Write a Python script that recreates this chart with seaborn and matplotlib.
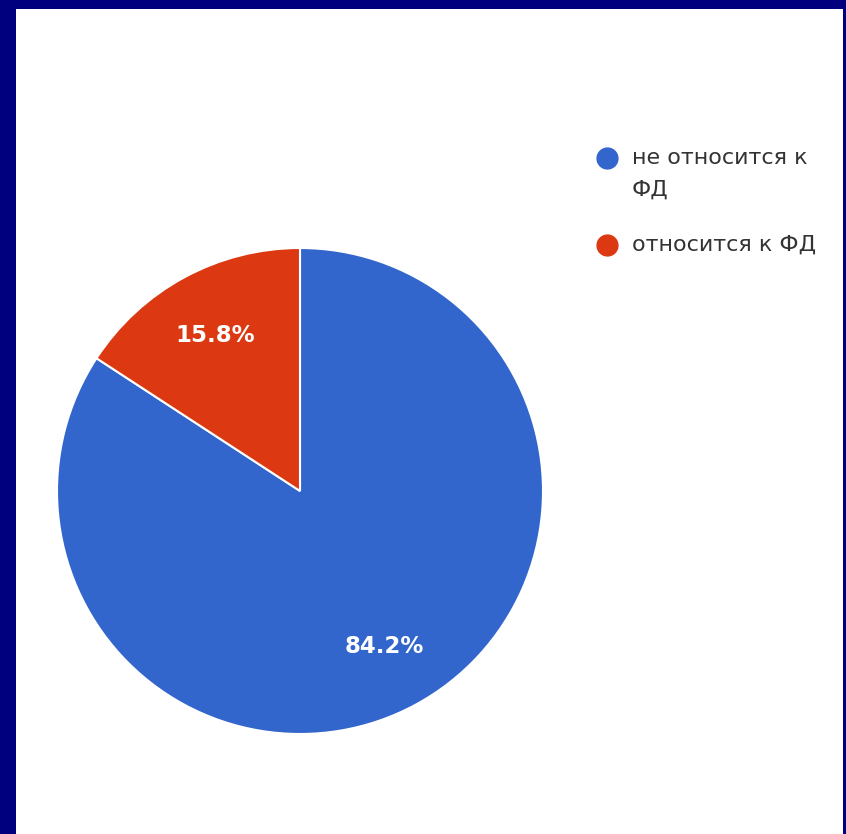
import matplotlib
matplotlib.use("Agg")
import matplotlib.pyplot as plt
import seaborn as sns
from matplotlib.lines import Line2D

categories = ["не относится к\nФД", "относится к ФД"]
values = [84.2, 15.8]
colors = ["#3366CC", "#DC3912"]

sns.set_style("white")
plt.rcParams['font.family'] = ['DejaVu Sans']

W, H = 846, 834
fig = plt.figure(figsize=(W / 100, H / 100), dpi=100)
fig.patch.set_facecolor("#00007F")
bg = fig.add_axes([16 / W, 0, (843 - 16) / W, (834 - 9) / H])
bg.set_facecolor("white")
bg.set_xticks([]); bg.set_yticks([])
for s in bg.spines.values():
    s.set_visible(False)
bg.set_zorder(0)

cx, cy, r = 300, 491, 243
ax = fig.add_axes([(cx - r) / W, (H - cy - r) / H, 2 * r / W, 2 * r / H])
ax.set_zorder(2)
ax.set_facecolor("none")
wedges, texts, autotexts = ax.pie(
    values, colors=colors, startangle=90, counterclock=False,
    autopct="%.1f%%", pctdistance=0.73, radius=1,
    wedgeprops=dict(edgecolor="white", linewidth=1.5),
    textprops=dict(color="white", fontsize=16.5, fontweight="bold"))
ax.set_xlim(-1, 1)
ax.set_ylim(-1, 1)
ax.set_aspect("equal")
ax.axis("off")

# legend (marker aligned with first text line, as in the reference)
leg_y = [158, 245]
for lab, c, y in zip(categories, colors, leg_y):
    fig.add_artist(Line2D([607 / W], [1 - y / H], marker="o", linestyle="none",
                          markersize=15, markerfacecolor=c, markeredgecolor=c,
                          transform=fig.transFigure, zorder=5))
    fig.text(632 / W, 1 - (y - 10) / H, lab, fontsize=16, color="#333333",
             ha="left", va="top", linespacing=1.7, zorder=5)

fig.savefig("out.png", dpi=100, facecolor=fig.get_facecolor())
